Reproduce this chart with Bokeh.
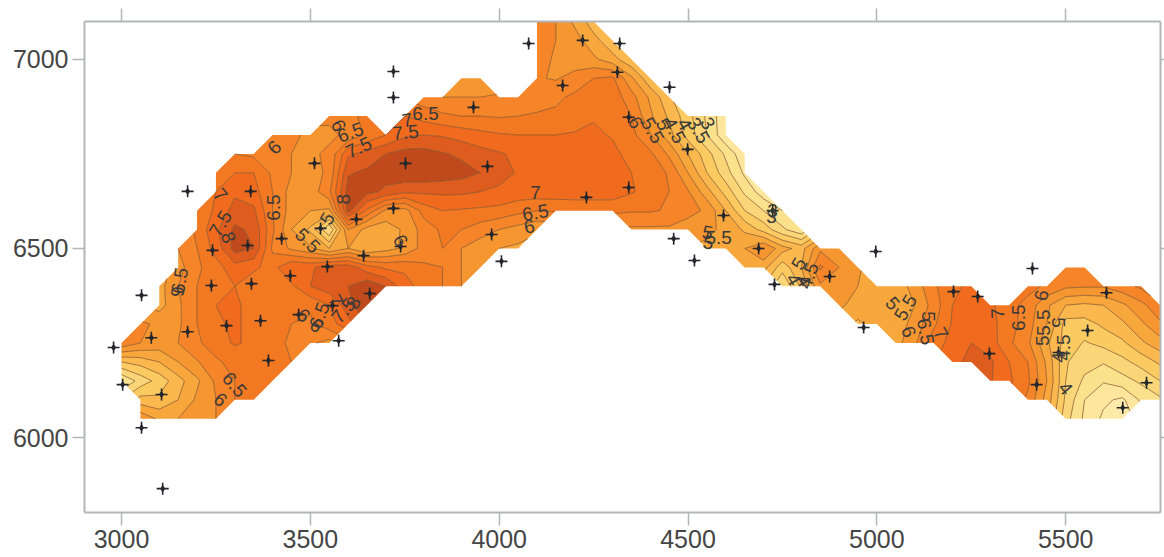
import numpy as np
from bokeh.plotting import figure
from bokeh.models import LinearAxis, FixedTicker
from bokeh.core.properties import value
from bokeh.embed import file_html
from bokeh.resources import INLINE

# Surface values per grid row: (first x of the run, values at 50-unit steps)
ROW_7100 = [(4100, [6.4, 6.0, 5.4, 4.7])]
ROW_7050 = [(4100, [6.4, 6.0, 5.7, 5.2, 4.6])]
ROW_7000 = [(4100, [6.3, 5.9, 5.7, 5.6, 5.2, 4.6])]
ROW_6950 = [(3900, [5.7, 5.7]), (4100, [6.05, 5.95, 6.2, 6.5, 6.6, 5.6, 4.6])]
ROW_6900 = [(3800, [6.2, 6.0, 6.0, 6.0, 6.05, 6.2, 6.3, 6.4, 6.6, 6.8, 6.8, 6.2, 5.4, 4.6])]
ROW_6850 = [(3550, [6.1, 6.3, 6.7]),
            (3750, [7.0, 6.8, 6.6, 6.5, 6.5, 6.45, 6.5, 6.55, 6.6, 6.75, 6.95, 6.9, 6.5, 5.6, 4.9, 4.2, 3.4, 2.6])]
ROW_6800 = [(3400, [6.3, 6.1, 5.9, 5.9, 6.1, 6.6, 7.0, 7.4, 7.5, 7.45, 7.3, 7.15, 7.05, 7.0, 7.0, 7.0, 7.05, 7.1,
                    6.95, 6.65, 6.05, 5.2, 4.3, 3.5, 2.6])]
ROW_6750 = [(3300, [6.5, 6.4, 6.1, 6.0, 5.9, 6.1, 7.4, 7.7, 8.0, 8.2, 8.2, 8.05, 7.9, 7.7, 7.55, 7.4, 7.3, 7.25, 7.2,
                    7.15, 7.15, 6.8, 6.6, 5.9, 5.0, 4.2, 3.4, 2.6])]
ROW_6700 = [(3250, [6.6, 7.0, 7.0, 6.4, 6.0, 5.8, 6.1, 7.95, 8.1, 8.2, 8.4, 8.4, 8.3, 8.2, 8.0, 7.7, 7.45, 7.35, 7.3,
                    7.3, 7.3, 7.2, 7.0, 6.75, 6.45, 5.5, 4.5, 3.7, 2.9])]
ROW_6650 = [(3250, [7.0, 7.4, 7.2, 6.5, 5.8, 5.7, 6.4, 8.2, 8.15, 7.9, 7.6, 7.6, 7.6, 7.6, 7.5, 7.4, 7.3, 7.3, 7.3,
                    7.3, 7.3, 7.3, 7.05, 6.8, 6.5, 6.05, 5.2, 4.3, 3.4, 2.7])]
ROW_6600 = [(3200, [6.6, 7.1, 7.7, 7.6, 6.5, 5.8, 5.5, 5.4, 8.2, 6.9, 5.9, 5.8, 6.7, 7.0, 6.95, 6.9, 6.85, 6.65, 6.5,
                    6.55, 6.6, 6.6, 6.6, 6.55, 6.55, 6.45, 6.2, 5.9, 5.0, 4.0, 3.5, 3.0])]
ROW_6550 = [(3200, [6.6, 7.4, 8.1, 7.9, 6.6, 5.5, 4.9, 3.5, 6.0, 5.3, 5.2, 5.6, 6.2, 6.6, 6.5, 6.25, 6.0, 5.8, 5.6]),
            (4350, [5.9, 5.9, 5.9, 5.7, 5.6, 5.4, 4.9, 4.3, 3.6, 3.1])]
ROW_6500 = [(3150, [6.0, 6.5, 7.2, 8.2, 8.0, 6.4, 5.9, 5.6, 5.0, 5.5, 5.0, 5.3, 5.6, 6.2, 6.5, 6.0, 5.7, 5.5, 5.4]),
            (4550, [5.4, 5.4, 5.5, 6.0, 5.2, 4.8, 5.9, 5.8])]
ROW_6450 = [(3150, [5.8, 6.4, 6.8, 7.3, 7.1, 6.8, 7.5, 7.4, 7.8, 7.8, 7.2, 6.9, 6.9, 6.6, 6.5, 6.0, 5.7]),
            (4650, [5.4, 5.2, 4.2, 5.0, 6.6, 6.0, 5.6]),
            (5500, [6.4, 6.4])]
ROW_6400 = [(3100, [5.3, 6.0, 6.5, 6.7, 7.0, 6.7, 6.6, 6.9, 7.5, 7.8, 8.0, 8.4, 8.0, 7.2, 6.8, 6.5, 6.0]),
            (4750, [3.5, 4.6, 5.9, 5.9, 5.5, 5.0, 5.2, 5.7, 6.4, 6.9, 7.1]),
            (5400, [6.7, 6.4, 6.1, 6.05, 6.05, 6.3, 6.6])]
ROW_6350 = [(3100, [5.3, 5.9, 6.5, 7.0, 7.1, 6.8, 6.6, 6.6, 6.6, 7.0, 7.8, 8.5]),
            (4900, [5.6, 5.3, 5.2, 5.2, 5.5, 6.2, 7.0, 7.1, 7.1, 6.7, 6.3, 5.6, 5.0, 4.9, 5.0, 5.4, 5.85, 6.4])]
ROW_6300 = [(3050, [6.1, 5.9, 5.9, 6.5, 6.9, 7.1, 6.8, 6.6, 6.5, 6.4, 6.8, 7.3]),
            (4950, [4.9, 5.2, 5.2, 5.7, 6.4, 7.05, 7.15, 7.15, 6.75, 6.2, 5.5, 4.3, 4.3, 4.6, 4.9, 5.4, 5.9])]
ROW_6250 = [(3000, [6.4, 6.0, 5.8, 6.0, 6.4, 6.8, 7.05, 6.9, 6.6, 6.45, 6.1, 5.8]),
            (5050, [5.3, 5.9, 6.8, 7.15, 7.5, 7.25, 6.6, 6.1, 5.1, 4.3, 3.95, 4.15, 4.4, 4.9, 5.3])]
ROW_6200 = [(3000, [4.5, 4.7, 5.0, 5.5, 5.95, 6.4, 6.7, 6.9, 6.8, 6.5]),
            (5200, [7.3, 7.7, 7.6, 7.0, 6.5, 5.4, 4.05, 3.7, 3.55, 3.85, 4.2, 4.6])]
ROW_6150 = [(3000, [3.0, 3.7, 4.2, 4.8, 5.4, 6.1, 6.5, 6.7, 6.7]),
            (5300, [7.55, 7.1, 6.6, 5.5, 4.0, 3.4, 3.05, 3.3, 3.6, 4.0])]
ROW_6100 = [(3050, [4.7, 4.6, 5.0, 5.6, 6.0, 6.5, 6.6]),
            (5400, [6.4, 5.3, 3.9, 3.0, 2.6, 2.4, 3.1, 3.4])]
ROW_6050 = [(3050, [5.9, 5.4, 5.5, 5.8, 6.0]),
            (5500, [3.7, 2.9, 2.4, 2.1])]

ROWS = [ROW_6050, ROW_6100, ROW_6150, ROW_6200, ROW_6250, ROW_6300, ROW_6350, ROW_6400, ROW_6450, ROW_6500, ROW_6550,
        ROW_6600, ROW_6650, ROW_6700, ROW_6750, ROW_6800, ROW_6850, ROW_6900, ROW_6950, ROW_7000, ROW_7050, ROW_7100]

LEVELS = [1.5, 2, 2.5, 3, 3.5, 4, 4.5, 5, 5.5, 6, 6.5, 7, 7.5, 8, 9]
BAND_COLORS = ["#FDEDB0", "#FEEAA8", "#FEE69C", "#FCE18C", "#FBD678", "#FBCB62", "#FAB84E", "#F8A73C", "#F69630",
               "#F58528", "#F37822", "#F16B1E", "#DE5C1E", "#C04A1B"]

WELL_X = [2979, 3003, 3079, 3106, 3053, 3109, 3053, 3175, 3175, 3241, 3238, 3278, 3342, 3334, 3344, 3368, 3389, 3424,
          3447, 3469, 3511, 3527, 3545, 3559, 3575, 3622, 3641, 3657, 3720, 3720, 3720, 3752, 3739, 3932, 3969, 3980,
          4006, 4078, 4168, 4221, 4231, 4319, 4313, 4343, 4343, 4451, 4499, 4462, 4517, 4594, 4687, 4724, 4729, 4875,
          4997, 4965, 5203, 5267, 5298, 5412, 5423, 5481, 5558, 5608, 5714, 5651]
WELL_Y = [6238, 6140, 6264, 6114, 6026, 5865, 6376, 6651, 6280, 6495, 6402, 6296, 6651, 6508, 6407, 6309, 6204, 6526,
          6428, 6325, 6725, 6553, 6452, 6349, 6256, 6577, 6481, 6381, 6968, 6899, 6606, 6725, 6505, 6873, 6717, 6537,
          6466, 7042, 6931, 7050, 6635, 7042, 6966, 6661, 6847, 6926, 6762, 6526, 6468, 6587, 6500, 6600, 6405, 6426,
          6492, 6291, 6386, 6373, 6222, 6447, 6140, 6225, 6283, 6383, 6145, 6079]

LABEL_TEXT = ["6", "6", "6.5", "7.5", "7.5", "7", "6.5", "8", "6.5", "7", "7.5", "8", "5", "5.5", "6", "6.5", "6",
              "6.5", "6", "6", "6.5", "6", "7", "8", "7.5", "7", "6.5", "6", "5", "5", "5.5", "3", "3",
              "6", "5.5", "5", "4.5", "4", "3.5", "3", "5", "4", "4.5", "4", "5", "5.5", "5", "6", "6.5", "7",
              "7", "6.5", "6", "5.5", "5", "5", "4.5", "4", "4"]
LABEL_X = [3405, 3575, 3606, 3628, 3752, 3757, 3805, 3588, 3402, 3262, 3262, 3283, 3545, 3493, 3739, 3154, 3148,
           3299, 3262, 3482, 3524, 3516, 3567, 3614, 3588, 4096, 4096, 4080, 4552, 4554, 4581, 4724, 4721,
           4361, 4406, 4435, 4464, 4491, 4528, 4552, 4793, 4779, 4819, 4806, 5042, 5076, 5137, 5084, 5129, 5169,
           5320, 5375, 5436, 5441, 5481, 5439, 5494, 5481, 5500]
LABEL_Y = [6767, 6825, 6807, 6767, 6807, 6839, 6857, 6630, 6608, 6642, 6566, 6529, 6579, 6521, 6521, 6415, 6386,
           6140, 6100, 6323, 6323, 6296, 6362, 6357, 6336, 6648, 6595, 6558, 6542, 6516, 6529, 6600, 6585,
           6833, 6812, 6828, 6812, 6828, 6812, 6831, 6460, 6418, 6428, 6415, 6355, 6344, 6320, 6280, 6280, 6275,
           6328, 6317, 6376, 6304, 6304, 6256, 6238, 6212, 6130]
LABEL_ANGLE = [45, -65, 20, 25, 5, 10, 0, 90, 90, -50, 60, -70, 60, -45, -60, 80, -90,
               -50, -40, -40, 70, -40, -60, 60, 50, 0, 10, 10, -10, -10, 0, 0, 0,
               -60, -60, -60, -60, -60, -60, -60, 60, -60, 70, -60, -50, 60, -90, -70, -80, -60,
               92, 90, 80, 90, -90, 90, 90, 90, -50]

X_TICKS = [3000, 3500, 4000, 4500, 5000, 5500]
Y_TICKS = [6000, 6500, 7000]

AXIS_GREY = "#b4b5b8"
TEXT_GREY = "#454545"

grid_x = np.arange(3000, 5751, 50)
grid_y = np.arange(6050, 7101, 50)
grid_z = np.full((len(grid_y), len(grid_x)), np.nan)
for j, row in enumerate(ROWS):
    for start, vals in row:
        i = int((start - 3000) / 50)
        grid_z[j, i:i + len(vals)] = vals

p = figure(width=1164, height=557, x_range=(2902, 5751), y_range=(5802, 7100),
           output_backend="svg", toolbar_location=None,
           min_border_left=84, min_border_right=4, min_border_top=21, min_border_bottom=45,
           x_axis_location=None, y_axis_location=None)
p.grid.visible = False
p.outline_line_color = None

X, Y = np.meshgrid(grid_x, grid_y)
p.contour(X, Y, grid_z, LEVELS, fill_color=BAND_COLORS, line_color="#7b4a1f", line_width=0.8, line_alpha=0.85)

p.scatter(WELL_X, WELL_Y, marker="cross", size=12, line_width=1.6, line_color="#23262b")
p.scatter(WELL_X, WELL_Y, marker="diamond", size=6, color="#23262b")

p.text(x=LABEL_X, y=LABEL_Y, text=LABEL_TEXT, angle=LABEL_ANGLE, angle_units="deg",
       text_align="center", text_baseline="middle", text_font=value("Liberation Sans"),
       text_font_size="19px", text_color="#3a3a3a")


def make_axis(ticks, labels, tick_out):
    ax = LinearAxis(ticker=FixedTicker(ticks=ticks))
    ax.axis_line_color = AXIS_GREY
    ax.axis_line_width = 2
    ax.major_tick_line_color = AXIS_GREY
    ax.major_tick_line_width = 1.5
    ax.major_tick_in = 0
    ax.major_tick_out = tick_out
    ax.minor_tick_line_color = None
    if labels:
        ax.major_label_text_font = "Liberation Sans"
        ax.major_label_text_font_size = "25px"
        ax.major_label_text_color = TEXT_GREY
        ax.major_label_standoff = 4
    else:
        ax.major_label_overrides = {t: "" for t in ticks}
        ax.major_label_standoff = 0
    return ax


p.add_layout(make_axis(X_TICKS, True, 13), "below")
p.add_layout(make_axis(Y_TICKS, True, 12), "left")
p.add_layout(make_axis(X_TICKS, False, 13), "above")
p.add_layout(make_axis(Y_TICKS, False, 4), "right")

open("out.html", "w").write(file_html(p, INLINE))
